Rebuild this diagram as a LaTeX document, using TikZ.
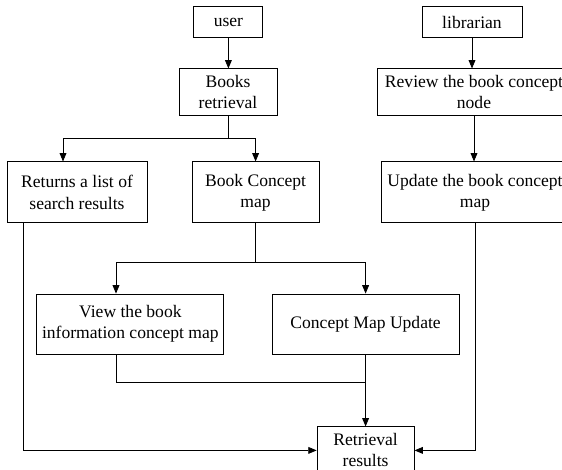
\documentclass[tikz,border=0pt]{standalone}
\usepackage{fontspec}
\setmainfont{Liberation Serif}
\usetikzlibrary{arrows.meta}

\begin{document}
\begin{tikzpicture}[
	box/.style={draw, line width=0.6pt, align=center, inner sep=1pt,
		font=\fontsize{12.5pt}{15pt}\selectfont},
	arrow/.style={line width=0.6pt, -{Triangle[length=2.1mm,width=1.7mm]}},
	link/.style={line width=0.6pt}
	]
	\useasboundingbox (0,0) rectangle (14.05,-11.75);
	\clip (0,0) rectangle (14.05,-11.75);
	
	%actors
	\node[box, minimum width=1.725cm, minimum height=0.775cm] (user) at (5.71,-0.56){user};
	\node[box, minimum width=2.5cm, minimum height=0.775cm] (lib) at (11.8,-0.56){librarian};
	
	%first level
	\node[box, minimum width=2.45cm, minimum height=1.175cm] (books) at (5.7,-2.31){Books\\retrieval};
	\node[box, minimum width=4.85cm, minimum height=1.175cm] (rev) at (11.85,-2.31){Review the book concept\\node};
	
	%second level
	\node[box, minimum width=3.5cm, minimum height=1.525cm] (ret) at (1.925,-4.81){Returns a list of\\search results};
	\node[box, minimum width=3.175cm, minimum height=1.525cm] (bcm) at (6.39,-4.81){Book Concept\\map};
	\node[box, minimum width=4.7cm, minimum height=1.525cm] (upd) at (11.875,-4.81){Update the book concept\\map};
	
	%third level
	\node[box, minimum width=4.675cm, minimum height=1.5cm] (view) at (3.26,-8.1){View the book\\information concept map};
	\node[box, minimum width=4.675cm, minimum height=1.5cm] (cmu) at (9.14,-8.1){Concept Map Update};
	
	%output
	\node[box, minimum width=2.425cm, minimum height=1.175cm] (res) at (9.14,-11.26){Retrieval\\results};
	
	%branch points
	\coordinate (b1) at (1.575,-3.45);
	\coordinate (c1) at (2.9,-6.55);
	\coordinate (vjoin) at (2.9,-9.55);
	\coordinate (retout) at (0.575,-11.26);
	
	%connectors
	\draw[arrow] (user.south) -- (user.south |- books.north);
	\draw[arrow] (lib.south) -- (lib.south |- rev.north);
	\draw[arrow] (rev.south) -- (rev.south |- upd.north);
	\draw[arrow] (books.south) |- (b1) -- (b1 |- ret.north);
	\draw[arrow] (books.south) |- (bcm.north |- b1) -- (bcm.north);
	\draw[arrow] (bcm.south) |- (c1) -- (c1 |- view.north);
	\draw[arrow] (bcm.south) |- (cmu.north |- c1) -- (cmu.north);
	\draw[link] (view.south -| vjoin) -- (vjoin) -- (cmu.south |- vjoin);
	\draw[arrow] (cmu.south) -- (res.north);
	\draw[arrow] (ret.south -| retout) -- (retout) -- (res.west);
	\draw[arrow] (upd.south) |- (res.east);
	
\end{tikzpicture}
\end{document}
